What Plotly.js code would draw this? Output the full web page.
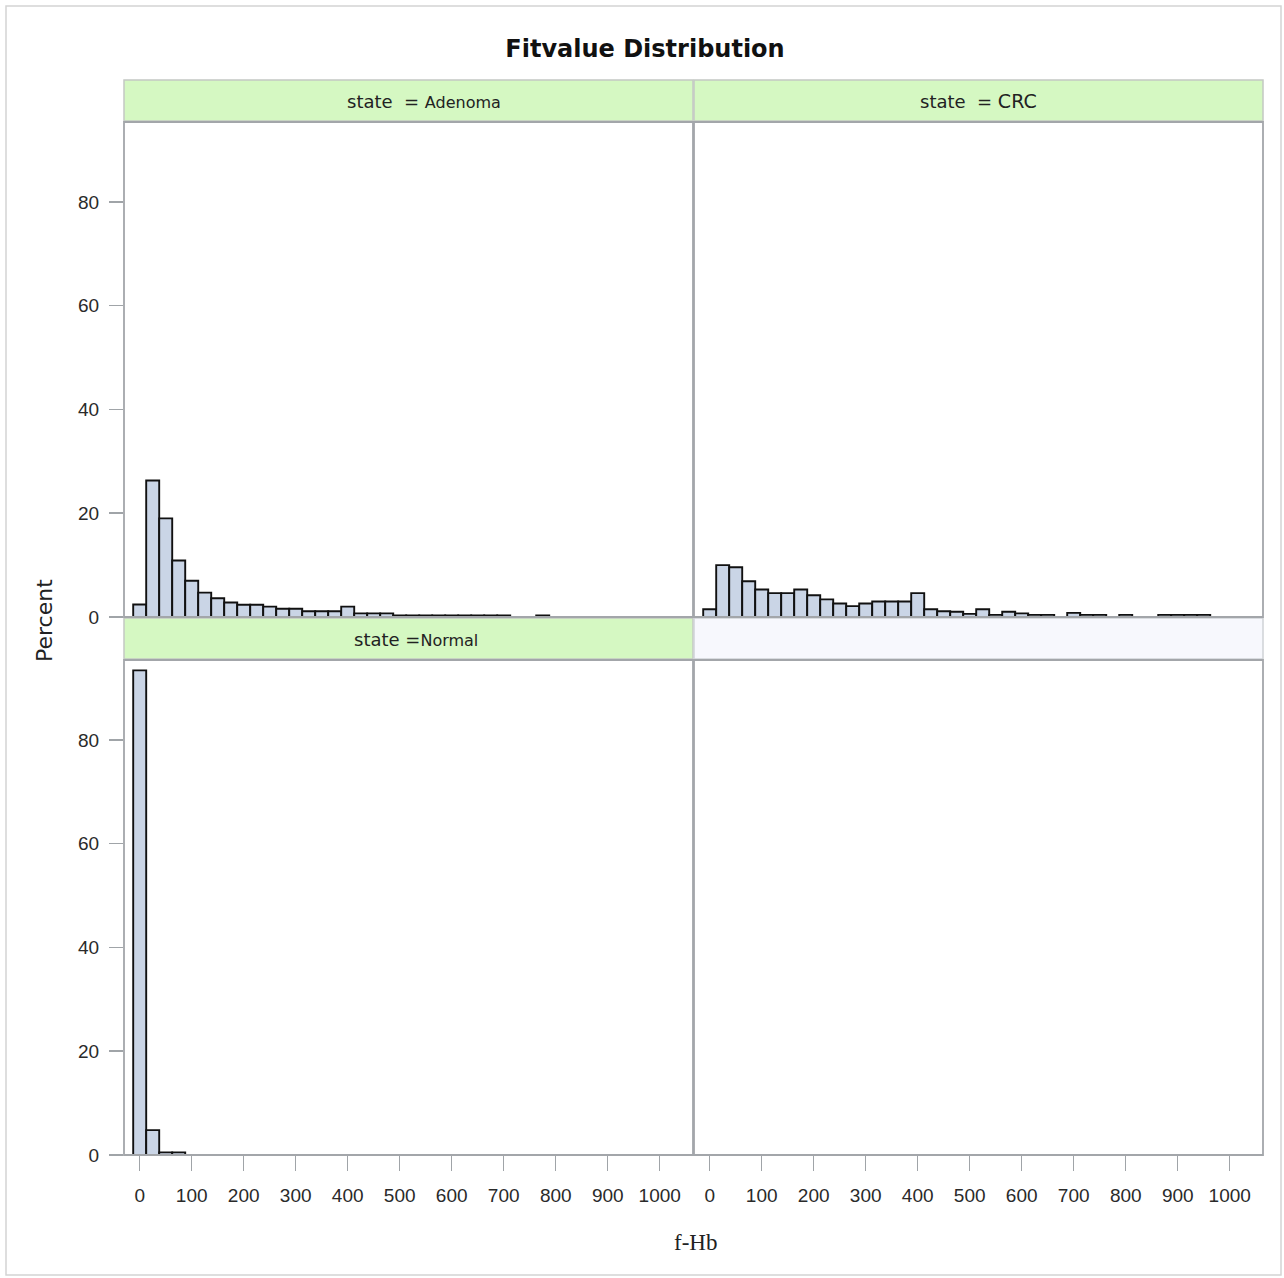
<!DOCTYPE html>
<html>
<head>
<meta charset="utf-8">
<script src="https://cdn.plot.ly/plotly-3.0.1.min.js"></script>
<style>html,body{margin:0;padding:0;background:#fff;}#chart{width:1284px;height:1278px;}</style>
</head>
<body>
<div id="chart"></div>
<script>
// ---- data (percent per 25-unit f-Hb bin, bin centers) ----
const adenomaBins = [0,25,50,75,100,125,150,175,200,225,250,275,300,325,350,375,400,425,450,475,500,525,550,575,600,625,650,675,700,725,750,775];
const adenomaPct  = [2.4,26.3,19.0,10.9,7.0,4.7,3.6,2.8,2.35,2.35,2.0,1.6,1.6,1.1,1.1,1.1,2.0,0.7,0.7,0.7,0.3,0.3,0.3,0.3,0.3,0.3,0.3,0.3,0.3,0,0,0.3];
const crcBins = [0,25,50,75,100,125,150,175,200,225,250,275,300,325,350,375,400,425,450,475,500,525,550,575,600,625,650,675,700,725,750,775,800,825,850,875,900,925,950];
const crcPct  = [1.5,10.0,9.6,6.9,5.3,4.6,4.6,5.3,4.2,3.4,2.6,2.1,2.6,3.0,3.0,3.0,4.6,1.5,1.1,1.0,0.6,1.5,0.4,1.0,0.7,0.4,0.4,0,0.8,0.4,0.4,0,0.4,0,0,0.4,0.4,0.4,0.4];
const normalBins = [0,25,50,75];
const normalPct  = [93.4,4.8,0.5,0.5];
const panelLabels = ["Adenoma","CRC","Normal"];
const yTicks = [0,20,40,60,80];
const xTicks = [0,100,200,300,400,500,600,700,800,900,1000];

const W = 1284, H = 1278;
const px = x => x / W;
const py = y => 1 - y / H;

function nz(xs, ys) {
  const ox = [], oy = [];
  xs.forEach((x, i) => { if (ys[i] > 0) { ox.push(x); oy.push(ys[i]); } });
  return {x: ox, y: oy};
}
function barTrace(xs, ys, xa, ya) {
  const d = nz(xs, ys);
  return {type: 'bar', x: d.x, y: d.y, width: 25, xaxis: xa, yaxis: ya,
    marker: {color: '#cad5e6', line: {color: '#111111', width: 1.9}},
    hoverinfo: 'x+y', showlegend: false};
}

const data = [
  barTrace(adenomaBins, adenomaPct, 'x', 'y'),
  barTrace(crcBins, crcPct, 'x2', 'y2'),
  barTrace(normalBins, normalPct, 'x3', 'y3'),
  {type: 'bar', x: [], y: [], xaxis: 'x4', yaxis: 'y4', showlegend: false}
];

const XR = [-30.2, 1064];
const YR = [0, 95.4];
const tickFont = {family: 'Liberation Sans, Arial, sans-serif', size: 19, color: '#2a2a2a'};
const colL = [px(124), px(693)], colR = [px(694), px(1263)];
const rowT = [py(617), py(122)], rowB = [py(1155), py(660)];

function xax(domain, anchor, labels) {
  return {domain: domain, anchor: anchor, range: XR, showgrid: false, zeroline: false,
    showline: false, tickmode: 'array', tickvals: labels ? xTicks : [],
    ticks: labels ? 'outside' : '', ticklen: 15, tickwidth: 1.5, tickcolor: '#a0a4a8',
    showticklabels: labels, tickfont: tickFont, ticklabelstandoff: 8, fixedrange: true};
}
function yax(domain, anchor, labels) {
  return {domain: domain, anchor: anchor, range: YR, showgrid: false, zeroline: false,
    showline: false, tickmode: 'array', tickvals: labels ? yTicks : [],
    ticks: labels ? 'outside' : '', ticklen: 14, tickwidth: 1.5, tickcolor: '#a0a4a8',
    showticklabels: labels, tickfont: tickFont, ticklabelstandoff: 6, fixedrange: true};
}

const shapes = [];
function rect(x0, y0, x1, y1, fill, line, lw) {
  shapes.push({type: 'rect', xref: 'paper', yref: 'paper', x0: px(x0), x1: px(x1), y0: py(y1), y1: py(y0),
    fillcolor: fill, line: {color: line, width: lw}, layer: 'below'});
}
// outer frame
rect(6, 6, 1281, 1275, 'rgba(0,0,0,0)', '#d4d4d4', 1.5);
// header strips
rect(124, 80, 693, 121, '#d5f8c2', '#c4c8c4', 1.5);
rect(694, 80, 1263, 121, '#d5f8c2', '#c4c8c4', 1.5);
rect(124, 618, 693, 659, '#d5f8c2', '#c4c8c4', 1.5);
rect(694, 618, 1263, 659, '#f7f8fd', '#d0d2d6', 1.5);
// panel frames
function frame(x0, y0, x1, y1) {
  shapes.push({type: 'rect', xref: 'paper', yref: 'paper', x0: px(x0), x1: px(x1), y0: py(y1), y1: py(y0),
    fillcolor: 'rgba(0,0,0,0)', line: {color: '#a3a6aa', width: 1.8}, layer: 'above'});
}
frame(124, 122, 693, 617);
frame(694, 122, 1263, 617);
frame(124, 660, 693, 1155);
frame(694, 660, 1263, 1155);

const hdrFont = {family: 'DejaVu Sans, sans-serif', size: 18, color: '#222'};
const annotations = [
  {text: 'state  = <span style="font-size:16px">' + panelLabels[0] + '</span>', x: px(424), y: py(101), xref: 'paper', yref: 'paper', showarrow: false, font: hdrFont, xanchor: 'center', yanchor: 'middle'},
  {text: 'state  = <span style="font-size:19px">' + panelLabels[1] + '</span>', x: px(978), y: py(101), xref: 'paper', yref: 'paper', showarrow: false, font: hdrFont, xanchor: 'center', yanchor: 'middle'},
  {text: 'state =<span style="font-size:16px">' + panelLabels[2] + '</span>', x: px(416), y: py(639), xref: 'paper', yref: 'paper', showarrow: false, font: hdrFont, xanchor: 'center', yanchor: 'middle'},
  {text: 'f-Hb', x: px(696), y: py(1242), xref: 'paper', yref: 'paper', showarrow: false,
   font: {family: 'Liberation Serif, Times New Roman, serif', size: 23, color: '#222'}, xanchor: 'center', yanchor: 'middle'},
  {text: 'Percent', x: px(44), y: py(620), xref: 'paper', yref: 'paper', showarrow: false, textangle: -90,
   font: {family: 'DejaVu Sans, sans-serif', size: 22, color: '#222'}, xanchor: 'center', yanchor: 'middle'}
];

const layout = {
  width: W, height: H, margin: {l: 0, r: 0, t: 0, b: 0},
  paper_bgcolor: '#ffffff', plot_bgcolor: 'rgba(0,0,0,0)',
  title: {text: 'Fitvalue Distribution', x: px(645), xanchor: 'center', xref: 'paper', y: py(49), yanchor: 'middle', yref: 'paper',
    font: {family: 'DejaVu Sans, sans-serif', size: 24, weight: 'bold', color: '#111'}},
  bargap: 0, showlegend: false,
  xaxis: xax(colL, 'y', false),
  yaxis: yax(rowT, 'x', true),
  xaxis2: xax(colR, 'y2', false),
  yaxis2: yax(rowT, 'x2', false),
  xaxis3: xax(colL, 'y3', true),
  yaxis3: yax(rowB, 'x3', true),
  xaxis4: xax(colR, 'y4', true),
  yaxis4: yax(rowB, 'x4', false),
  shapes: shapes, annotations: annotations
};

Plotly.newPlot('chart', data, layout, {displayModeBar: false, staticPlot: true});
</script>
</body>
</html>
